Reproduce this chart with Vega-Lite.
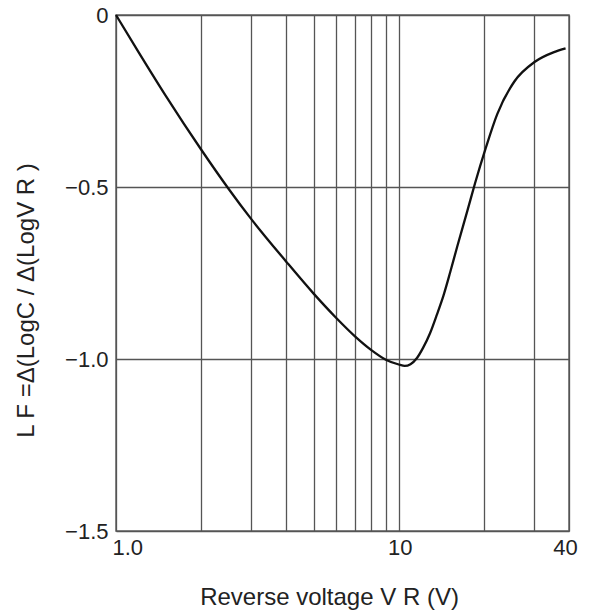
{
  "$schema": "https://vega.github.io/schema/vega-lite/v6.json",
  "width": 453,
  "height": 516,
  "autosize": "none",
  "padding": {"left": 116, "top": 15, "right": 21, "bottom": 84},
  "background": "white",
  "config": {
    "view": {"stroke": "#666666", "strokeWidth": 1.5},
    "font": "Liberation Sans"
  },
  "data": {
    "values": [
      {"v": 1.0, "lf": 0.0},
      {"v": 1.2, "lf": -0.107},
      {"v": 1.5, "lf": -0.235},
      {"v": 2.0, "lf": -0.391},
      {"v": 2.5, "lf": -0.505},
      {"v": 3.0, "lf": -0.592},
      {"v": 4.0, "lf": -0.717},
      {"v": 5.0, "lf": -0.810},
      {"v": 6.0, "lf": -0.880},
      {"v": 7.0, "lf": -0.934},
      {"v": 8.0, "lf": -0.974},
      {"v": 9.0, "lf": -1.002},
      {"v": 10.0, "lf": -1.016},
      {"v": 10.5, "lf": -1.02},
      {"v": 11.0, "lf": -1.015},
      {"v": 11.6, "lf": -0.997},
      {"v": 12.2, "lf": -0.967},
      {"v": 12.9, "lf": -0.925},
      {"v": 13.6, "lf": -0.874},
      {"v": 14.4, "lf": -0.815},
      {"v": 15.2, "lf": -0.748},
      {"v": 16.1, "lf": -0.673},
      {"v": 17.5, "lf": -0.568},
      {"v": 18.6, "lf": -0.490},
      {"v": 20.3, "lf": -0.387},
      {"v": 22.3, "lf": -0.288},
      {"v": 25.6, "lf": -0.194},
      {"v": 30.3, "lf": -0.136},
      {"v": 35.4, "lf": -0.108},
      {"v": 38.9, "lf": -0.097}
    ]
  },
  "mark": {"type": "line", "color": "#111111", "strokeWidth": 2.3, "interpolate": "monotone"},
  "encoding": {
    "x": {
      "field": "v",
      "type": "quantitative",
      "scale": {"type": "log", "domain": [1, 40], "nice": false},
      "axis": {
        "values": [1, 2, 3, 4, 5, 6, 7, 8, 9, 10, 20, 30, 40],
        "labelExpr": "datum.value == 1 ? '1.0' : (datum.value == 10 || datum.value == 40) ? datum.label : ''",
        "labelOverlap": false,
        "labelFlush": false,
        "labelAlign": {"condition": {"test": "datum.value == 1", "value": "left"}, "value": "center"},
        "labelOffset": {"condition": {"test": "datum.value == 1 || datum.value == 40", "value": -4}, "value": 1},
        "labelFontSize": 22,
        "labelColor": "#222222",
        "labelPadding": 6,
        "ticks": false,
        "domain": false,
        "grid": true,
        "gridColor": "#555555",
        "gridWidth": 1.3,
        "gridOpacity": 1,
        "title": "Reverse voltage V R (V)",
        "titleFontSize": 24,
        "titleFontWeight": "normal",
        "titleColor": "#222222",
        "titlePadding": 27,
        "titleX": 213
      }
    },
    "y": {
      "field": "lf",
      "type": "quantitative",
      "scale": {"domain": [-1.5, 0], "nice": false, "zero": false},
      "axis": {
        "values": [-1.5, -1, -0.5, 0],
        "labelExpr": "datum.value == 0 ? '0' : '\u2212' + format(-datum.value, '.1f')",
        "labelFontSize": 22,
        "labelColor": "#222222",
        "labelPadding": 8,
        "ticks": false,
        "domain": false,
        "grid": true,
        "gridColor": "#555555",
        "gridWidth": 1.3,
        "gridOpacity": 1,
        "title": "L F =\u0394(LogC / \u0394(LogV R )",
        "titleFontSize": 24,
        "titleFontWeight": "normal",
        "titleColor": "#222222",
        "titleY": 285,
        "titleX": -78
      }
    }
  }
}
